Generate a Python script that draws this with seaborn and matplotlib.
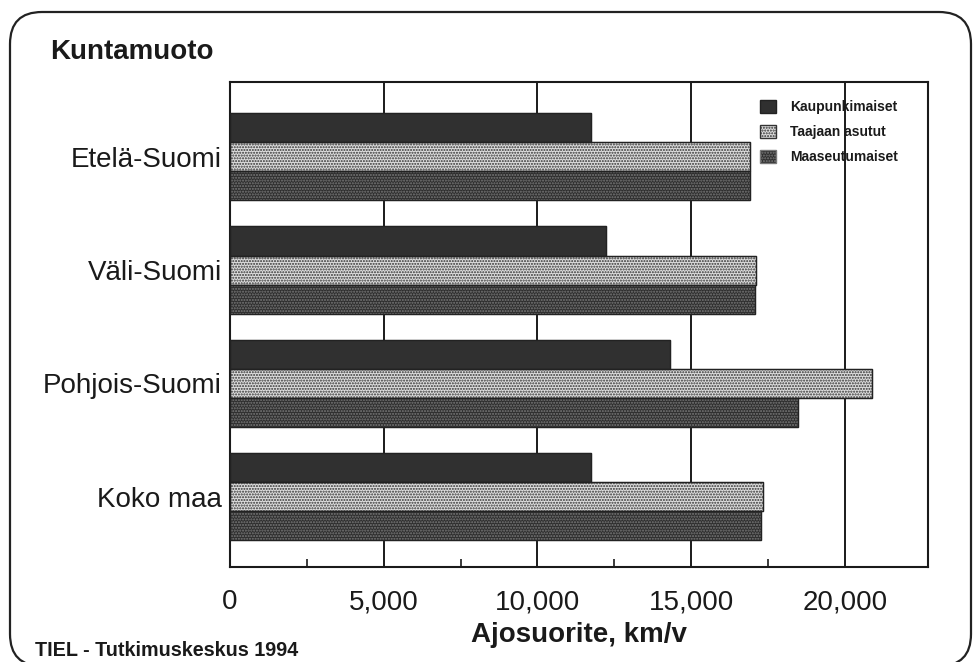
import matplotlib
matplotlib.use("Agg")
import matplotlib.pyplot as plt
import matplotlib.ticker as mticker
from matplotlib.transforms import IdentityTransform
from matplotlib.patches import Patch, Rectangle, FancyBboxPatch
import pandas as pd
import seaborn as sns

# Data
regions = ["Etelä-Suomi", "Väli-Suomi", "Pohjois-Suomi", "Koko maa"]
kaupunkimaiset = [11750, 12220, 14320, 11750]
taajaan_asutut = [16920, 17100, 20880, 17350]
maaseutumaiset = [16920, 17060, 18480, 17280]
series = ["Kaupunkimaiset", "Taajaan asutut", "Maaseutumaiset"]
x_ticks = [0, 5000, 10000, 15000, 20000]

df = pd.DataFrame({
    "alue": regions * 3,
    "tyyppi": [series[0]] * 4 + [series[1]] * 4 + [series[2]] * 4,
    "km": kaupunkimaiset + taajaan_asutut + maaseutumaiset,
})

sns.set_theme(style="white")
plt.rcParams["font.family"] = ["Liberation Sans", "DejaVu Sans"]
plt.rcParams["hatch.linewidth"] = 1.0

fig = plt.figure(figsize=(9.73, 6.62), dpi=100)
ax = fig.add_axes([230 / 973, 1 - 567 / 662, 698 / 973, 485 / 662])

# rounded frame around the whole chart (pixel coordinates, origin bottom-left)
frame = FancyBboxPatch((10, -4), 961, 654,
                       boxstyle="round,pad=0,rounding_size=32",
                       transform=IdentityTransform(), fill=False,
                       edgecolor="#222222", linewidth=1.6, clip_on=False)
fig.patches.append(frame)

sns.barplot(data=df, y="alue", x="km", hue="tyyppi", order=regions,
            hue_order=series, orient="h", width=0.77, ax=ax,
            errorbar=None, legend=False, saturation=1)

# fill styles: solid dark, light dotted, dark speckled
styles = [
    dict(facecolor="#303030", edgecolor="#303030", hatch=None),
    dict(facecolor="#dedede", edgecolor="#333333", hatch="......"),
    dict(facecolor="#2e2e2e", edgecolor="#7a7a7a", hatch="......"),
]
for cont, st in zip(ax.containers, styles):
    for bar in cont:
        bar.set_facecolor(st["facecolor"])
        bar.set_edgecolor(st["edgecolor"])
        bar.set_linewidth(0.8)
        if st["hatch"]:
            bar.set_hatch(st["hatch"])
        bb = bar.get_bbox()
        ax.add_patch(Rectangle((bb.x0, bb.y0), bb.width, bb.height, fill=False,
                               edgecolor="#222222", linewidth=1.0, zorder=3))

ax.set_xlim(0, 22700)
ax.set_ylim(3.62, -0.66)
ax.set_axisbelow(True)
ax.xaxis.set_major_locator(mticker.FixedLocator(x_ticks))
ax.xaxis.set_minor_locator(mticker.FixedLocator([2500, 7500, 12500, 17500]))
ax.xaxis.set_major_formatter(mticker.FuncFormatter(lambda v, p: f"{int(v):,}"))
ax.grid(axis="x", which="major", color="#1a1a1a", linewidth=1.4)
ax.tick_params(axis="x", which="major", length=0, pad=16, labelsize=20, labelcolor="#1a1a1a")
ax.tick_params(axis="x", which="minor", direction="in", length=6, width=1.2, color="#1a1a1a", bottom=True)
ax.tick_params(axis="y", length=4, direction="in", pad=6, labelsize=20, labelcolor="#1a1a1a", left=True, color="#1a1a1a")
for sp in ax.spines.values():
    sp.set_visible(True)
    sp.set_color("#1a1a1a")
    sp.set_linewidth(1.5)

ax.set_ylabel("")
ax.set_xlabel("Ajosuorite, km/v", fontsize=20, fontweight="bold", color="#1a1a1a", labelpad=5)

handles = [Patch(**{k: v for k, v in st.items()}, linewidth=1.0) for st in styles]
handles[0].set_edgecolor("#222222")
handles[2].set_edgecolor("#7a7a7a")
leg = ax.legend(handles, series, loc="upper left", bbox_to_anchor=(0.752, 0.975),
                frameon=False, fontsize=10, handlelength=1.15, handleheight=1.15,
                handletextpad=1.0, labelspacing=0.75, borderaxespad=0)
for t in leg.get_texts():
    t.set_fontweight("bold")
    t.set_color("#1a1a1a")

fig.text(50 / 973, 1 - 52 / 662, "Kuntamuoto", fontsize=20, fontweight="bold",
         color="#1a1a1a", va="center", ha="left")
fig.text(35 / 973, 1 - 650 / 662, "TIEL - Tutkimuskeskus 1994", fontsize=14.2,
         fontweight="bold", color="#1a1a1a", va="center", ha="left")

fig.savefig("out.png", dpi=100)
